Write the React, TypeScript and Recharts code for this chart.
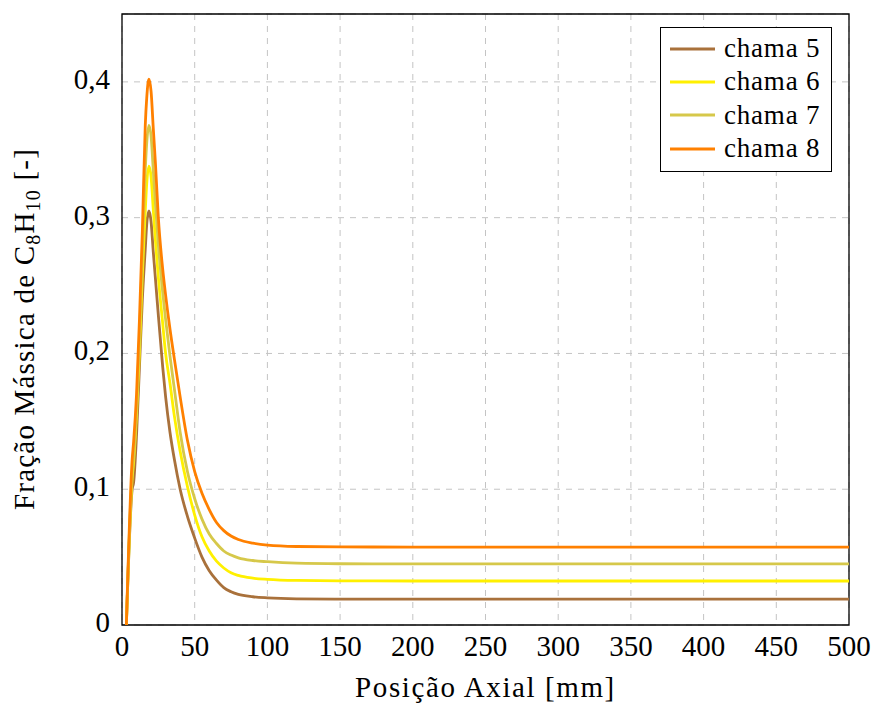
import {
  CartesianGrid,
  Legend,
  Line,
  LineChart,
  ReferenceArea,
  XAxis,
  YAxis,
} from "recharts";

// posição axial [mm]
const positions = [
  3, 7, 8, 10, 12, 14, 16, 17, 18.5, 20, 21.5, 23, 25, 28, 30, 33, 36, 40, 45,
  50, 55, 60, 65, 70, 75, 80, 90, 100, 120, 150, 200, 300, 400, 500,
];

// fração mássica de C8H10 por chama
const chama5 = [
  0, 0.1, 0.105, 0.14, 0.19, 0.24, 0.277, 0.295, 0.305, 0.297, 0.275, 0.255,
  0.228, 0.19, 0.168, 0.142, 0.122, 0.1, 0.08, 0.064, 0.05, 0.04, 0.033,
  0.0275, 0.0245, 0.0225, 0.0208, 0.02, 0.0193, 0.0191, 0.019, 0.019, 0.019,
  0.019,
];
const chama6 = [
  0, 0.108, 0.12, 0.155, 0.2, 0.258, 0.305, 0.325, 0.338, 0.33, 0.306, 0.283,
  0.256, 0.222, 0.2, 0.178, 0.154, 0.128, 0.102, 0.081, 0.065, 0.0545, 0.047,
  0.042, 0.0385, 0.0365, 0.0345, 0.0336, 0.0328, 0.0325, 0.0324, 0.0324,
  0.0324, 0.0324,
];
const chama7 = [
  0, 0.113, 0.125, 0.16, 0.21, 0.275, 0.335, 0.355, 0.368, 0.36, 0.335, 0.31,
  0.28, 0.245, 0.225, 0.198, 0.174, 0.142, 0.113, 0.093, 0.078, 0.067, 0.06,
  0.0545, 0.0515, 0.0495, 0.0475, 0.0466, 0.0455, 0.0451, 0.045, 0.045, 0.045,
  0.045,
];
const chama8 = [
  0, 0.122, 0.135, 0.17, 0.225, 0.29, 0.368, 0.388, 0.402, 0.393, 0.366, 0.34,
  0.3, 0.262, 0.243, 0.218, 0.196, 0.168, 0.136, 0.113, 0.097, 0.085, 0.0755,
  0.0695, 0.0655, 0.063, 0.0603, 0.0588, 0.0578, 0.0575, 0.0574, 0.0574,
  0.0574, 0.0574,
];

const seriesKeys = ["c5", "c6", "c7", "c8"];
const seriesNames = ["chama 5", "chama 6", "chama 7", "chama 8"];
const seriesColors = ["#a9713b", "#fff000", "#d6c84a", "#ff8000"];

const xTicks = [0, 50, 100, 150, 200, 250, 300, 350, 400, 450, 500];
const yTicks = [0, 0.1, 0.2, 0.3, 0.4];

const data = positions.map((x, i) => ({
  x,
  c5: chama5[i],
  c6: chama6[i],
  c7: chama7[i],
  c8: chama8[i],
}));

const FONT =
  "'Liberation Serif', 'DejaVu Serif', 'Noto Serif', 'Nimbus Roman', FreeSerif, Tinos, Times, serif";

const fmt = (v: number) => String(Math.round(v * 10) / 10).replace(".", ",");

const XTick = ({ x, y, payload }: any) => (
  <text x={x} y={y} dy={31} textAnchor="middle" fontSize={29} style={{ fontFamily: FONT }} fill="#000">
    {payload.value}
  </text>
);

const YTick = ({ x, y, payload }: any) => (
  <text x={x} y={y} dy={7} textAnchor="end" fontSize={29} style={{ fontFamily: FONT }} fill="#000">
    {fmt(payload.value)}
  </text>
);

const XTitle = ({ viewBox }: any) => (
  <text
    x={viewBox.x + viewBox.width / 2}
    y={viewBox.y + 72}
    textAnchor="middle"
    fontSize={29}
    style={{ fontFamily: FONT }}
    letterSpacing={1.6}
    fill="#000"
  >
    Posição Axial [mm]
  </text>
);

const YTitle = () => (
  <text
    x={34}
    y={329}
    transform="rotate(-90, 34, 329)"
    textAnchor="middle"
    fontSize={29}
    style={{ fontFamily: FONT }}
    letterSpacing={1.2}
    fill="#000"
  >
    Fração Mássica de C
    <tspan fontSize={20} dy={6}>8</tspan>
    <tspan dy={-6}>H</tspan>
    <tspan fontSize={20} dy={6}>10</tspan>
    <tspan dy={-6}> [-]</tspan>
  </text>
);

const renderLegend = () => (
  <div
    style={{
      boxSizing: "border-box",
      width: 172,
      height: 145,
      border: "1px solid #000",
      background: "#fff",
      paddingTop: 4,
    }}
  >
    {seriesNames.map((name, i) => (
      <div key={name} style={{ display: "flex", alignItems: "center", height: 33.3 }}>
        <svg width={55} height={6} style={{ display: "block" }}>
          <line x1={9} x2={54} y1={3} y2={3} stroke={seriesColors[i]} strokeWidth={3} />
        </svg>
        <span
          style={{
            marginLeft: 8,
            fontSize: 27,
            fontFamily: FONT,
            letterSpacing: 0.8,
            lineHeight: "27px",
            color: "#000",
          }}
        >
          {name}
        </span>
      </div>
    ))}
  </div>
);

export default function App() {
  return (
    <div style={{ position: "absolute", left: 0, top: 0, width: 875, height: 706, background: "#fff" }}>
      <LineChart
        width={875}
        height={706}
        data={data}
        margin={{ top: 14, right: 26, bottom: 0, left: 0 }}
      >
        <CartesianGrid stroke="#c4c4c4" strokeDasharray="6 6" strokeWidth={1} />
        <XAxis
          dataKey="x"
          type="number"
          domain={[0, 500]}
          ticks={xTicks}
          height={81}
          tickLine={false}
          tickSize={0}
          tickMargin={0}
          axisLine={false}
          tick={<XTick />}
          label={{ content: XTitle }}
        />
        <YAxis
          type="number"
          domain={[0, 0.45]}
          ticks={yTicks}
          width={122}
          tickLine={false}
          tickSize={0}
          tickMargin={12}
          axisLine={false}
          tick={<YTick />}
          label={{ content: YTitle }}
        />
        <ReferenceArea
          x1={0}
          x2={500}
          y1={0}
          y2={0.45}
          fill="none"
          stroke="#000"
          strokeWidth={1.3}
          fillOpacity={0}
        />
        {seriesKeys.map((k, i) => (
          <Line
            key={k}
            type="monotone"
            dataKey={k}
            name={seriesNames[i]}
            stroke={seriesColors[i]}
            strokeWidth={2.8}
            dot={false}
            isAnimationActive={false}
          />
        ))}
        <Legend
          layout="vertical"
          align="center"
          verticalAlign="middle"
          content={renderLegend}
          wrapperStyle={{ left: 660, top: 27, width: 172, height: 145 }}
        />
      </LineChart>
    </div>
  );
}
